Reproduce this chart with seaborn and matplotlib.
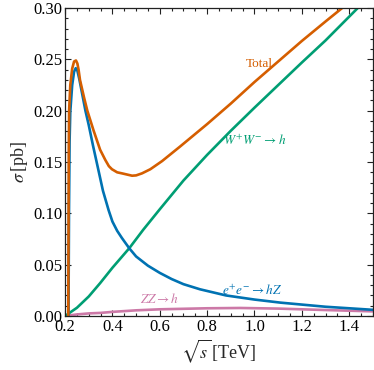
import pandas as pd
import numpy as np
import matplotlib
matplotlib.use("Agg")
import matplotlib.pyplot as plt
import seaborn as sns

# values (sqrt(s) in TeV, sigma in pb)
total_x = [0.2135, 0.2145, 0.2155, 0.217, 0.222, 0.230, 0.238, 0.246, 0.252, 0.257,
           0.263, 0.280, 0.294, 0.320, 0.348, 0.370, 0.385, 0.398, 0.420, 0.440,
           0.483, 0.500, 0.525, 0.560, 0.610, 0.685, 0.800, 0.900, 1.000,
           1.100, 1.200, 1.300, 1.375]
total_y = [0.000, 0.080, 0.160, 0.200, 0.225, 0.241, 0.248, 0.249, 0.246, 0.240,
           0.230, 0.213, 0.200, 0.181, 0.162, 0.152, 0.146, 0.143, 0.140, 0.139,
           0.1367, 0.137, 0.139, 0.143, 0.151, 0.165, 0.187, 0.207, 0.228,
           0.248, 0.268, 0.287, 0.301]

ww_x = [0.200, 0.250, 0.300, 0.348, 0.400, 0.471, 0.530, 0.600, 0.700, 0.800, 0.900,
        1.000, 1.100, 1.200, 1.300, 1.440]
ww_y = [0.000, 0.008, 0.019, 0.032, 0.047, 0.066, 0.084, 0.104, 0.132, 0.157, 0.1805,
        0.203, 0.225, 0.247, 0.2685, 0.301]

hz_x = [0.2145, 0.2165, 0.219, 0.222, 0.230, 0.238, 0.245, 0.252, 0.260, 0.276, 0.286,
        0.300, 0.318, 0.340, 0.360, 0.384, 0.400, 0.420, 0.440, 0.471, 0.500, 0.550,
        0.600, 0.650, 0.700, 0.770, 0.880, 1.000, 1.110, 1.300, 1.500]
hz_y = [0.000, 0.100, 0.170, 0.199, 0.225, 0.238, 0.2415, 0.239, 0.231, 0.212, 0.200,
        0.186, 0.166, 0.143, 0.122, 0.103, 0.092, 0.083, 0.076, 0.066, 0.058, 0.049,
        0.042, 0.036, 0.031, 0.026, 0.020, 0.016, 0.013, 0.009, 0.006]

zz_x = [0.200, 0.250, 0.300, 0.350, 0.400, 0.500, 0.600, 0.700, 0.800, 0.940, 1.100,
        1.300, 1.500]
zz_y = [0.000, 0.0015, 0.0025, 0.003, 0.004, 0.0055, 0.0065, 0.007, 0.0075, 0.0078,
        0.0072, 0.0058, 0.0045]

colors = {"total": "#D55E00", "ww": "#009E73", "hz": "#0072B2", "zz": "#CC79A7"}

sns.set_theme(style="ticks")
plt.rcParams["font.family"] = ["Liberation Serif", "DejaVu Serif"]
plt.rcParams["mathtext.fontset"] = "stix"

fig = plt.figure(figsize=(3.74, 3.70), dpi=100)
ax = fig.add_axes([0.174, 0.146, 0.823, 0.832])

series = [
    (zz_x, zz_y, "zz"),
    (ww_x, ww_y, "ww"),
    (hz_x, hz_y, "hz"),
    (total_x, total_y, "total"),
]
for xs, ys, key in series:
    df = pd.DataFrame({"x": xs, "y": ys})
    sns.lineplot(data=df, x="x", y="y", ax=ax, color=colors[key], lw=1.9,
                 sort=False, estimator=None)

ax.set_xlim(0.2, 1.5)
ax.set_ylim(0.0, 0.3)
ax.set_xticks([0.2, 0.4, 0.6, 0.8, 1.0, 1.2, 1.4])
ax.set_yticks([0.0, 0.05, 0.10, 0.15, 0.20, 0.25, 0.30])
ax.set_xticklabels(["0.2", "0.4", "0.6", "0.8", "1.0", "1.2", "1.4"])
ax.set_yticklabels(["0.00", "0.05", "0.10", "0.15", "0.20", "0.25", "0.30"])
ax.xaxis.set_minor_locator(matplotlib.ticker.MultipleLocator(0.05))
ax.yaxis.set_minor_locator(matplotlib.ticker.MultipleLocator(0.01))
ax.tick_params(which="both", direction="in", top=True, right=True, width=0.8,
               colors="#222222", labelcolor="black", labelsize=12)
ax.tick_params(which="major", length=4.5)
ax.tick_params(which="minor", length=2.5)
ax.tick_params(axis="x", pad=2)
ax.tick_params(axis="y", pad=2)
for sp in ax.spines.values():
    sp.set_visible(True)
    sp.set_linewidth(0.9)
    sp.set_color("#222222")

ax.set_xlabel(r"$\sqrt{s}\,$[TeV]", fontsize=13, labelpad=2)
ax.set_ylabel(r"$\sigma\,$[pb]", fontsize=13, labelpad=2)

ax.text(1.02, 0.246, "Total", color=colors["total"], fontsize=9.5, ha="center", va="center")
ax.text(1.0, 0.171, r"$W^{+}W^{-}\rightarrow h$", color=colors["ww"], fontsize=9.5,
        ha="center", va="center")
ax.text(0.99, 0.025, r"$e^{+}e^{-}\rightarrow hZ$", color=colors["hz"], fontsize=9.5,
        ha="center", va="center")
ax.text(0.60, 0.0165, r"$ZZ\rightarrow h$", color=colors["zz"], fontsize=9.5,
        ha="center", va="center")

fig.savefig("out.png", dpi=100)
